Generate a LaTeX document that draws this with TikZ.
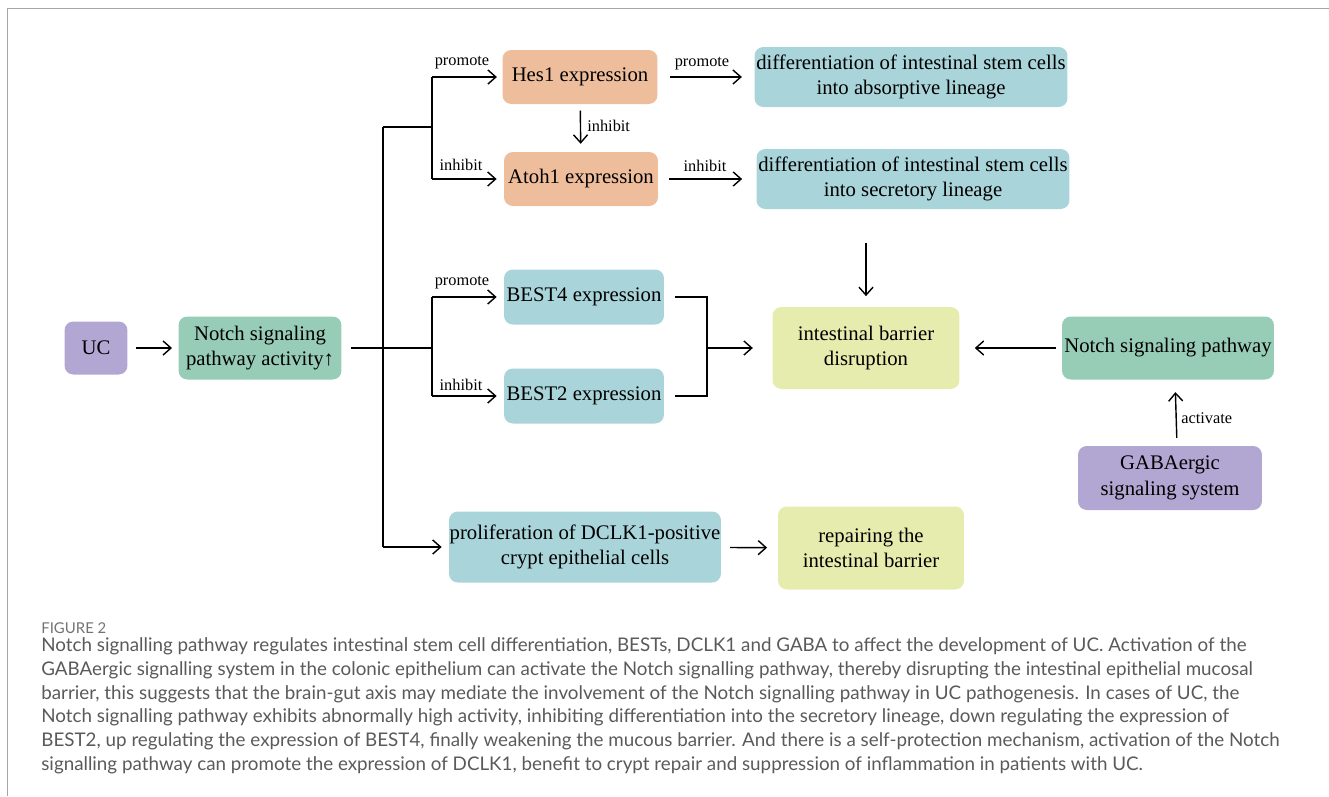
\documentclass[tikz,border=0pt]{standalone}
\usepackage{fontspec}
\setmainfont{Liberation Serif}
\newfontfamily\capfont{Lato}
\usetikzlibrary{arrows.meta}
\definecolor{ucpurple}{HTML}{B2A6D2}
\definecolor{notchgreen}{HTML}{97CCB7}
\definecolor{peach}{HTML}{EEBD9C}
\definecolor{teal}{HTML}{A9D4DA}
\definecolor{lime}{HTML}{E6EBAE}
\definecolor{capgray}{HTML}{5A5A5A}
\definecolor{framegray}{HTML}{A6A6A6}
\begin{document}
\begin{tikzpicture}[x=0.02cm, y=-0.02cm, font=\fontsize{11.8}{14.4}\selectfont,
	box/.style={rounded corners=5pt, align=center, inner sep=0pt},
	line/.style={line width=0.8pt},
	link/.style={line, -{Straight Barb[length=4.5pt,width=8pt]}},
	lab/.style={font=\fontsize{9.3}{11}\selectfont, inner sep=0pt}]
	\useasboundingbox (0,0) rectangle (1329,796);
	\draw[framegray, line width=1.1pt] (1329,8.5) -- (7.5,8.5) -- (7.5,796);
	% boxes
	\node (uc) [box, fill=ucpurple, minimum width=1.26cm, minimum height=1.06cm] at (96,348) {UC};
	\node (act) [box, fill=notchgreen, minimum width=3.26cm, minimum height=1.26cm] at (260,348) {Notch signaling\\pathway activity↑};
	\node (hes) [box, fill=peach, minimum width=3.1cm, minimum height=1.08cm] at (580,77) {Hes1 expression};
	\node (atoh) [box, fill=peach, minimum width=3.08cm, minimum height=1.08cm] at (581,179) {Atoh1 expression};
	\node (abs) [box, fill=teal, minimum width=6.26cm, minimum height=1.2cm] at (911,77) {differentiation of intestinal stem cells\\into absorptive lineage};
	\node (sec) [box, fill=teal, minimum width=6.26cm, minimum height=1.2cm] at (913,179) {differentiation of intestinal stem cells\\into secretory lineage};
	\node (bfour) [box, fill=teal, minimum width=3.2cm, minimum height=1.1cm] at (584,297) {BEST4 expression};
	\node (btwo) [box, fill=teal, minimum width=3.2cm, minimum height=1.1cm] at (584,396) {BEST2 expression};
	\node (bar) [box, fill=lime, minimum width=3.74cm, minimum height=1.64cm] at (866,348) {intestinal barrier\\disruption};
	\node (notch) [box, fill=notchgreen, minimum width=4.24cm, minimum height=1.26cm] at (1168,348) {Notch signaling pathway};
	\node (gaba) [box, fill=ucpurple, minimum width=3.68cm, minimum height=1.28cm] at (1170,478) {GABAergic\\signaling system};
	\node (dclk) [box, fill=teal, minimum width=5.44cm, minimum height=1.42cm] at (585,547) {proliferation of DCLK1-positive\\crypt epithelial cells};
	\node (rep) [box, fill=lime, minimum width=3.72cm, minimum height=1.66cm] at (871,548) {repairing the\\intestinal barrier};
	% trunk and forks
	\coordinate (fork) at (432,348);
	\coordinate (ttop) at (383,127);
	\coordinate (tbot) at (383,547);
	\coordinate (merge) at (707,348);
	\draw[link, shorten <=4.5pt, shorten >=3.5pt] (uc) -- (act);
	\draw[line, shorten <=5pt] (act.east) -- (fork);
	\draw[line] (ttop) -- (tbot);
	\draw[line] (ttop) -- (fork |- ttop);
	\draw[line] (fork |- hes) -- (fork |- atoh);
	\draw[line] (fork |- bfour) -- (fork |- btwo);
	\draw[link, shorten >=3pt] (fork |- hes) -- (hes);
	\draw[link, shorten >=4pt] (fork |- atoh) -- (atoh);
	\draw[link, shorten >=4pt] (fork |- bfour) -- (bfour);
	\draw[link, shorten >=4pt] (fork |- btwo) -- (btwo);
	\draw[link, shorten >=4pt] (tbot) -- (dclk);
	\draw[link, shorten <=3.5pt, shorten >=4.5pt] (hes) -- (atoh);
	\draw[link, shorten <=7pt, shorten >=7pt] (hes) -- (abs);
	\draw[link, shorten <=6pt, shorten >=8pt] (atoh) -- (sec);
	\draw[link, shorten <=19pt, shorten >=6pt] (sec.south -| bar.north) -- (bar.north);
	\draw[line, shorten <=6pt, shorten >=6pt] (bfour.east) -- (merge |- bfour) -- (merge |- btwo) -- (btwo.east);
	\draw[link, shorten >=11pt] (merge) -- (bar.west);
	\draw[link, shorten <=3pt, shorten >=8.5pt] (notch) -- (bar);
	\draw[link, shorten <=4.5pt, shorten >=7pt] ([xshift=4pt]gaba.north) -- ([xshift=4pt]notch.south);
	\draw[link, shorten <=5pt, shorten >=6pt] (dclk) -- (rep);
	% labels
	\node[lab] (l1) at (462,63) {promote};
	\node[lab] (l2) at (461,165) {inhibit};
	\node[lab] (l3) at (462,283) {promote};
	\node[lab] (l4) at (461,385) {inhibit};
	\node[lab, anchor=west] (l5) at (587,126) {inhibit};
	\node[lab] (l6) at (702,64) {promote};
	\node[lab] (l7) at (705,166) {inhibit};
	\node[lab, anchor=west] (l8) at (1181,418) {activate};
	% caption
	\node[anchor=west, inner sep=0pt, text=capgray!85, font=\capfont\fontsize{8.5}{10}\selectfont] (fig) at (41,628) {FIGURE 2};
	\node[anchor=north west, align=left, inner sep=0pt, text=capgray, font=\capfont\fontsize{10.7}{13.6}\selectfont] (cap) at (41,637) {Notch signalling pathway regulates intestinal stem cell differentiation, BESTs, DCLK1 and GABA to affect the development of UC. Activation of the\\
GABAergic signalling system in the colonic epithelium can activate the Notch signalling pathway, thereby disrupting the intestinal epithelial mucosal\\
barrier, this suggests that the brain-gut axis may mediate the involvement of the Notch signalling pathway in UC pathogenesis. In cases of UC, the\\
Notch signalling pathway exhibits abnormally high activity, inhibiting differentiation into the secretory lineage, down regulating the expression of\\
BEST2, up regulating the expression of BEST4, finally weakening the mucous barrier. And there is a self-protection mechanism, activation of the Notch\\
signalling pathway can promote the expression of DCLK1, benefit to crypt repair and suppression of inflammation in patients with UC.};
\end{tikzpicture}
\end{document}
